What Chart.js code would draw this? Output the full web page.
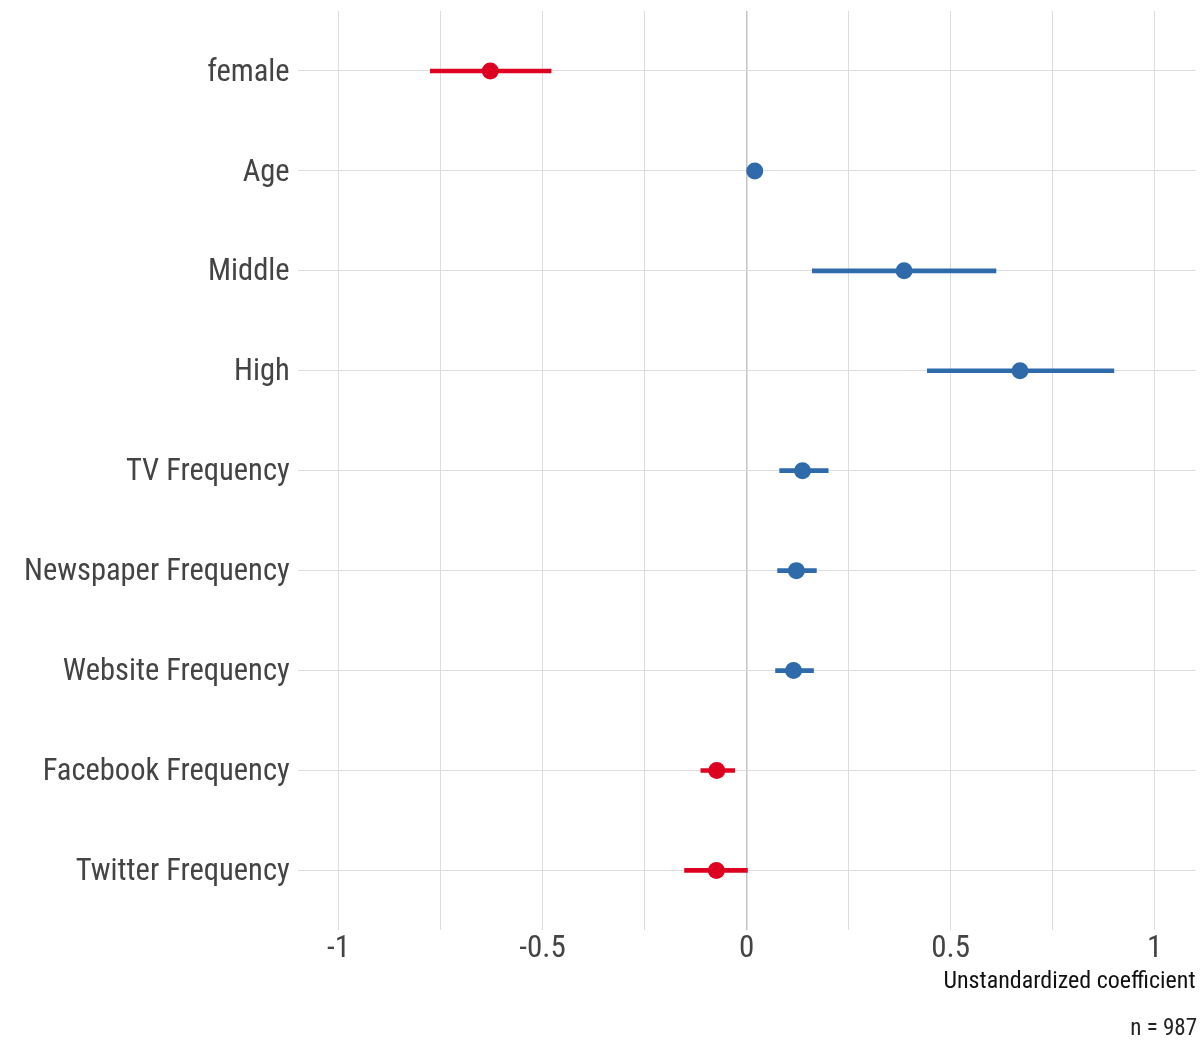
<!DOCTYPE html>
<html>
<head>
    <title>Coefficient plot</title>
    <script src="https://cdn.jsdelivr.net/npm/chart.js"></script>
    <style>
    html, body { margin: 0; padding: 0; background: #fff; }
    #wrap { width: 1204px; height: 1045px; }
  </style>
</head>
<body>
    <div id="wrap"><canvas id="coefChart"></canvas></div>
    <script>
      // model terms, top to bottom
      var terms = ['female', 'Age', 'Middle', 'High', 'TV Frequency', 'Newspaper Frequency',
                   'Website Frequency', 'Facebook Frequency', 'Twitter Frequency'];
      var estimates = [-0.628, 0.020, 0.386, 0.670, 0.137, 0.122, 0.115, -0.073, -0.074];
      var lower = [-0.775, 0.014, 0.161, 0.443, 0.081, 0.076, 0.071, -0.112, -0.152];
      var upper = [-0.479, 0.026, 0.611, 0.900, 0.200, 0.171, 0.164, -0.029, 0.002];
      var xTicks = [-1, -0.5, 0, 0.5, 1];

      var RED = '#dd0021', BLUE = '#2f6aab';
      var colors = estimates.map(function(v) { return v < 0 ? RED : BLUE; });
      var FONT = "'Roboto Condensed', 'Liberation Sans Narrow', 'Roboto', sans-serif";

      var ctx = document.getElementById('coefChart').getContext('2d');
      var chart = new Chart(ctx, {
          type: 'bar',
          data: {
              datasets: [{
                  type: 'bar',
                  label: 'CI',
                  data: lower.map(function(lo, i) { return { x: [lo, upper[i]], y: i }; }),
                  backgroundColor: colors,
                  borderWidth: 0,
                  barThickness: 4,
                  order: 2
              }, {
                  type: 'scatter',
                  label: 'Estimate',
                  data: estimates.map(function(v, i) { return { x: v, y: i }; }),
                  backgroundColor: colors,
                  borderColor: colors,
                  pointRadius: 8.5,
                  borderWidth: 0,
                  order: 1
              }]
          },
          options: {
              indexAxis: 'y',
              responsive: true,
              maintainAspectRatio: false,
              animation: false,
              layout: { padding: { top: 11, right: 7, left: 16, bottom: 2 } },
              plugins: {
                  legend: { display: false },
                  tooltip: { enabled: false },
                  title: {
                      display: true,
                      position: 'bottom',
                      align: 'end',
                      text: 'n = 987',
                      color: '#222',
                      font: { family: FONT, size: 23, weight: 'normal' },
                      padding: { top: 19, bottom: 0 }
                  }
              },
              scales: {
                  x: {
                      type: 'linear',
                      min: -1.1,
                      max: 1.1,
                      afterBuildTicks: function(axis) {
                          var t = [];
                          for (var v = -1; v <= 1.0001; v += 0.25) t.push({ value: Math.round(v * 100) / 100 });
                          axis.ticks = t;
                      },
                      ticks: {
                          color: '#444',
                          font: { family: FONT, size: 31 },
                          padding: 0,
                          maxRotation: 0,
                          autoSkip: false,
                          callback: function(v) {
                              return xTicks.indexOf(v) >= 0 ? String(v) : '';
                          }
                      },
                      grid: {
                          drawTicks: false,
                          color: function(c) { return c.tick && c.tick.value === 0 ? '#c4c4c4' : '#dcdcdc'; },
                          lineWidth: function(c) { return c.tick && c.tick.value === 0 ? 1.5 : 1; }
                      },
                      border: { display: false },
                      title: {
                          display: true,
                          text: 'Unstandardized coefficient',
                          align: 'end',
                          color: '#111',
                          font: { family: FONT, size: 24 },
                          padding: { top: 0, bottom: 0 }
                      }
                  },
                  y: {
                      type: 'linear',
                      reverse: true,
                      offset: false,
                      min: -0.6,
                      max: 8.6,
                      afterBuildTicks: function(axis) {
                          axis.ticks = terms.map(function(t, i) { return { value: i }; });
                      },
                      afterFit: function(axis) {
                          // labels sit well inside the panel, no extra room needed
                          axis.paddingTop = 0;
                          axis.paddingBottom = 0;
                      },
                      ticks: {
                          color: '#444',
                          font: { family: FONT, size: 30.5 },
                          padding: 8,
                          labelOffset: 2,
                          autoSkip: false,
                          callback: function(v) { return terms[v]; }
                      },
                      grid: { drawTicks: false, offset: false, color: '#dcdcdc' },
                      border: { display: false }
                  }
              }
          }
      });
    </script>
</body>
</html>
